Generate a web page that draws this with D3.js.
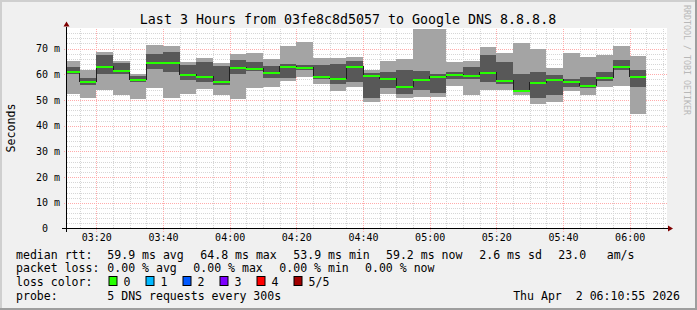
<!DOCTYPE html>
<html><head><meta charset="utf-8">
<script src="https://cdn.jsdelivr.net/npm/d3@7"></script>
<style>
html,body{margin:0;padding:0;background:#f0f0f0;overflow:hidden;}
svg{display:block;}
text{font-family:"DejaVu Sans Mono",monospace;fill:#000;}
</style></head><body>
<svg id="c" width="697" height="310"></svg>
<script>
// ---- data ----
const binStarts = ["03:10","03:15","03:20","03:25","03:30","03:35","03:40","03:45","03:50","03:55",
  "04:00","04:05","04:10","04:15","04:20","04:25","04:30","04:35","04:40","04:45",
  "04:50","04:55","05:00","05:05","05:10","05:15","05:20","05:25","05:30","05:35",
  "05:40","05:45","05:50","05:55","06:00"];
const pingMin    = [52.4,50.7,53.7,52.1,50.2,54.5,50.7,52.4,54.1,51.8,50.3,54.6,54.9,57.5,59.0,56.2,53.5,55.1,49.1,52.2,50.6,51.1,51.1,55.6,51.8,53.7,53.9,52.1,48.3,49.1,53.4,52.1,55.0,55.6,44.7];
const pingLow    = [59.9,55.9,59.9,59.9,56.9,62.0,60.8,57.6,56.8,56.0,59.9,61.2,58.7,58.6,61.7,58.2,56.1,56.8,50.7,54.7,52.4,53.7,52.6,58.2,58.2,56.9,56.1,53.0,50.7,51.9,54.9,54.7,57.5,61.7,55.0];
const pingMedian = [61.2,57.2,63.1,61.6,58.1,64.6,64.7,60.0,59.5,57.2,62.7,62.4,60.8,63.2,62.7,59.2,58.5,63.1,59.6,58.5,55.3,58.1,59.2,60.2,59.6,60.8,57.6,53.8,56.8,58.1,57.2,55.7,58.9,63.1,59.2];
const pingHigh   = [62.9,58.5,67.3,64.5,59.4,67.7,68.6,63.4,64.6,63.1,65.7,64.6,63.3,63.8,63.4,63.4,63.8,65.3,60.5,60.7,61.8,61.1,59.9,60.8,62.9,67.3,64.7,59.9,60.7,59.8,58.2,58.8,60.8,65.4,61.5];
const pingMax    = [65.1,61.8,68.8,65.3,59.9,71.2,70.8,64.9,66.5,64.5,67.7,68.4,65.8,70.8,72.4,66.5,66.5,66.6,61.8,65.3,65.8,77.4,77.4,64.9,65.3,70.4,68.1,72.0,70.0,62.3,68.1,66.6,67.3,70.8,66.9];
const stepMinutes = 5;
const windowStart = "03:11:12", windowEnd = "06:11:12";
const yMaxMs = 77.78;
const yTickValues = [0,10,20,30,40,50,60,70];
const yMinorStep = 2;
const xTickLabels = ["03:20","03:40","04:00","04:20","04:40","05:00","05:20","05:40","06:00"];
const titleText = "Last 3 Hours from 03fe8c8d5057 to Google DNS 8.8.8.8";
const yAxisTitle = "Seconds";
const rttStats = ["59.9 ms avg","64.8 ms max","53.9 ms min","59.2 ms now","2.6 ms sd","23.0","am/s"];
const lossStats = ["0.00 % avg","0.00 % max","0.00 % min","0.00 % now"];
const lossLabels = ["0","1","2","3","4","5/5"];
const lossColors = ["#26ff00","#00b8ff","#0059ff","#7e00ff","#ff0000","#a10000"];
const probeText = "5 DNS requests every 300s";
const dateText = "Thu Apr  2 06:10:55 2026";
const watermark = "RRDTOOL / TOBI OETIKER";

// ---- layout ----
const W = 697, H = 310;
const X0 = 67, X1 = 667, Y0 = 228.5, Y1 = 28.5;
const svg = d3.select("#c");
const base = "2026-04-02 ";
const pT = d3.timeParse("%Y-%m-%d %H:%M:%S");
const pM = d3.timeParse("%Y-%m-%d %H:%M");
const x = d3.scaleTime().domain([pT(base+windowStart), pT(base+windowEnd)]).range([X0, X1]);
const y = d3.scaleLinear().domain([0, yMaxMs]).range([Y0, Y1]);

// frame
svg.append("rect").attr("width",W).attr("height",H).attr("fill","#f0f0f0");
svg.append("rect").attr("x",0).attr("y",0).attr("width",W).attr("height",2).attr("fill","#cfcfcf");
svg.append("rect").attr("x",0).attr("y",0).attr("width",2).attr("height",H).attr("fill","#cfcfcf");
svg.append("rect").attr("x",0).attr("y",H-2).attr("width",W).attr("height",2).attr("fill","#9e9e9e");
svg.append("rect").attr("x",W-2).attr("y",0).attr("width",2).attr("height",H).attr("fill","#9e9e9e");

// canvas
svg.append("rect").attr("x",X0).attr("y",Y1-0.5).attr("width",X1-X0).attr("height",Y0-Y1+0.5).attr("fill","#ffffff");

// grid
const grid = svg.append("g").attr("shape-rendering","crispEdges");
const minorCol = "#d6d6d6", majorCol = "#ffabab";
const yMinor = d3.range(yMinorStep, yMaxMs, yMinorStep).filter(v => v % 10 !== 0);
yMinor.forEach(v => {
  const yy = Math.round(y(v)) + 0.5;
  grid.append("line").attr("x1",X0).attr("x2",X1).attr("y1",yy).attr("y2",yy)
    .attr("stroke",minorCol).attr("stroke-dasharray","1,1");
});
const majorTimes = xTickLabels.map(s => pM(base+s));
const minorTimes = d3.timeMinute.every(stepMinutes).range(x.domain()[0], x.domain()[1])
  .filter(t => !majorTimes.some(m => +m === +t));
minorTimes.forEach(t => {
  const xx = Math.round(x(t)) + 0.5;
  grid.append("line").attr("x1",xx).attr("x2",xx).attr("y1",Y1).attr("y2",Y0)
    .attr("stroke",minorCol).attr("stroke-dasharray","1,1");
});
yTickValues.filter(v => v > 0).forEach(v => {
  const yy = Math.round(y(v)) + 0.5;
  grid.append("line").attr("x1",X0-3).attr("x2",X1).attr("y1",yy).attr("y2",yy)
    .attr("stroke",majorCol).attr("stroke-dasharray","1,1");
});
majorTimes.forEach(t => {
  const xx = Math.round(x(t)) + 0.5;
  grid.append("line").attr("x1",xx).attr("x2",xx).attr("y1",Y1).attr("y2",Y0+3)
    .attr("stroke",majorCol).attr("stroke-dasharray","1,1");
});

// data
const bins = binStarts.map((s,i) => {
  const t0 = pM(base+s);
  return {t0, t1: d3.timeMinute.offset(t0, stepMinutes),
    min: pingMin[i], low: pingLow[i], med: pingMedian[i], high: pingHigh[i], max: pingMax[i]};
});
svg.append("clipPath").attr("id","pc").append("rect")
  .attr("x",X0).attr("y",Y1-1).attr("width",X1-X0).attr("height",Y0-Y1+1);
const g = svg.append("g").attr("clip-path","url(#pc)").attr("shape-rendering","crispEdges");
g.selectAll("rect.outer").data(bins).join("rect").attr("class","outer")
  .attr("x", d => x(d.t0)).attr("width", d => x(d.t1) - x(d.t0))
  .attr("y", d => y(d.max)).attr("height", d => y(d.min) - y(d.max))
  .attr("fill","#a4a4a4");
g.selectAll("rect.inner").data(bins).join("rect").attr("class","inner")
  .attr("x", d => x(d.t0)).attr("width", d => x(d.t1) - x(d.t0))
  .attr("y", d => y(d.high)).attr("height", d => y(d.low) - y(d.high))
  .attr("fill","#585858");
const stepPts = bins.map(d => [d.t0, d.med]).concat([[bins[bins.length-1].t1, bins[bins.length-1].med]]);
g.append("path").datum(stepPts)
  .attr("d", d3.line().x(d => x(d[0])).y(d => Math.round(y(d[1]))+0.5).curve(d3.curveStepAfter))
  .attr("fill","none").attr("stroke","#202020").attr("stroke-width",1);
g.selectAll("rect.med").data(bins).join("rect").attr("class","med")
  .attr("x", d => x(d.t0)).attr("width", d => x(d.t1) - x(d.t0))
  .attr("y", d => Math.round(y(d.med)) - 0.5).attr("height", 2.2)
  .attr("fill", lossColors[0]);

// axes lines
const ax = svg.append("g").attr("shape-rendering","crispEdges");
ax.append("line").attr("x1",X0-5).attr("x2",X1+1).attr("y1",Y0).attr("y2",Y0).attr("stroke","#000");
ax.append("line").attr("x1",X0-0.5).attr("x2",X0-0.5).attr("y1",Y0+3).attr("y2",Y1-2).attr("stroke","#000");
svg.append("path").attr("d",`M${X0-3.5},${Y1-2} L${X0+2.5},${Y1-2} L${X0-0.5},${Y1-7} Z`).attr("fill","#7f0000");
svg.append("path").attr("d",`M${X1+1},${Y0-3} L${X1+1},${Y0+3} L${X1+6},${Y0} Z`).attr("fill","#7f0000");

// y axis labels
const yAxis = d3.axisLeft(y).tickValues(yTickValues).tickSize(0).tickPadding(0)
  .tickFormat(v => v === 0 ? "0" : v + " m");
const yg = svg.append("g").attr("transform",`translate(${X0-7},0)`).call(yAxis);
yg.select(".domain").remove();
yg.selectAll("text").attr("font-family","DejaVu Sans Mono").attr("font-size","10px").attr("fill","#000")
  .attr("dy","0.32em").attr("dx", v => v === 0 ? -12 : 0);

// x axis labels
const xAxis = d3.axisBottom(x).tickValues(majorTimes).tickSize(0).tickPadding(0)
  .tickFormat(d3.timeFormat("%H:%M"));
const xg = svg.append("g").attr("transform",`translate(0,${Y0+5})`).call(xAxis);
xg.select(".domain").remove();
xg.selectAll("text").attr("font-family","DejaVu Sans Mono").attr("font-size","10px").attr("fill","#000")
  .attr("dy","0.71em");

// titles
svg.append("text").attr("x",348).attr("y",24).attr("text-anchor","middle")
  .attr("font-size","13.3px").text(titleText);
svg.append("text").attr("transform","translate(15,128) rotate(-90)").attr("text-anchor","middle")
  .attr("font-size","11.6px").text(yAxisTitle);
svg.append("text").attr("transform","translate(683.5,5) rotate(90)")
  .attr("font-size","8.3px").style("fill","#b8b8b8").text(watermark);

// legend
const FS = "11.55px";
const row = (yy, label) => svg.append("text").attr("x",16).attr("y",yy).attr("font-size",FS).text(label);
const rttX = [107.3,200.3,293.3,386,479.3,558.3,606.7];
row(258.5, "median rtt:");
rttStats.forEach((s,i) => svg.append("text").attr("x",rttX[i]).attr("y",258.5).attr("font-size",FS).text(s));
const lossX = [107.3,193.3,279.3,365];
row(272.3, "packet loss:");
lossStats.forEach((s,i) => svg.append("text").attr("x",lossX[i]).attr("y",272.3).attr("font-size",FS).text(s));
row(286.2, "loss color:");
lossLabels.forEach((s,i) => {
  const bx = 108.5 + i*37;
  svg.append("rect").attr("x",bx+0.5).attr("y",276.5).attr("width",8).attr("height",9)
    .attr("fill",lossColors[i]).attr("stroke","#000").attr("stroke-width",1);
  svg.append("text").attr("x",bx+15).attr("y",286.2).attr("font-size",FS).text(s);
});
row(300, "probe:");
svg.append("text").attr("x",107.3).attr("y",300).attr("font-size",FS).text(probeText);
svg.append("text").attr("x",680).attr("y",300).attr("text-anchor","end").attr("font-size",FS)
  .style("white-space","pre").text(dateText);
</script>
</body></html>
